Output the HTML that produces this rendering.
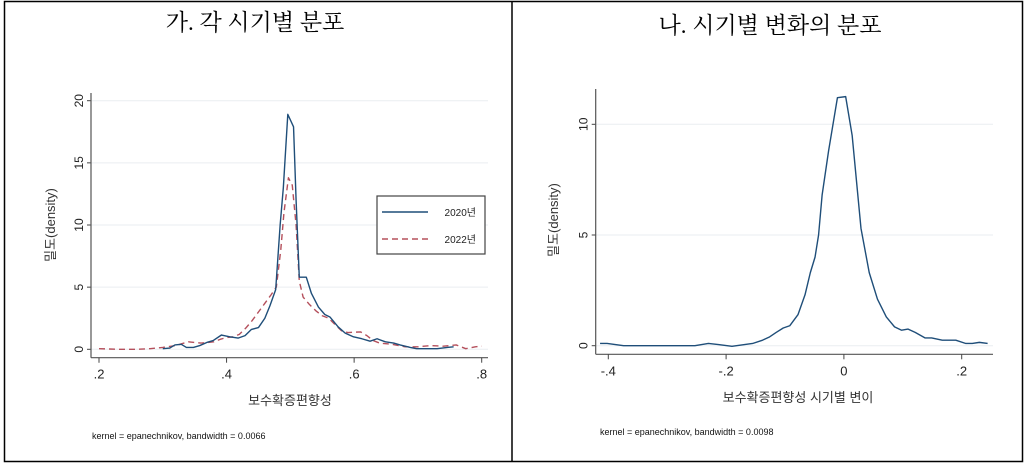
<!DOCTYPE html>
<html><head><meta charset="utf-8"><style>
body{margin:0;background:#fff;width:1024px;height:466px;overflow:hidden}
svg text{font-family:"Liberation Sans","Noto Sans CJK KR",sans-serif}
.t{font-family:"Liberation Serif","Noto Serif CJK SC",serif !important}
</style></head><body>
<svg width="1024" height="466">
<rect x="4.5" y="1.5" width="1018" height="460" fill="none" stroke="#000" stroke-width="1.5"/>
<line x1="512" y1="1.5" x2="512" y2="461.5" stroke="#000" stroke-width="1.5"/>
<text class="t" x="255" y="30" font-size="23" text-anchor="middle">가. 각 시기별 분포</text>
<text class="t" x="770" y="33" font-size="23" text-anchor="middle">나. 시기별 변화의 분포</text>
<g id="L"></g>
<g id="R"></g>
</svg>
<script>
const leftX2020=[.30,.311,.319,.329,.337,.348,.358,.369,.379,.392,.405,.418,.429,.439,.45,.46,.468,.477,.484,.489,.496,.505,.509,.514,.525,.533,.544,.554,.562,.575,.586,.599,.612,.625,.636,.649,.662,.672,.688,.698,.714,.73,.746,.756];
const leftY2020=[.05,.1,.35,.4,.15,.15,.3,.55,.7,1.15,1.0,.9,1.1,1.6,1.75,2.5,3.5,4.8,10,13,18.9,17.9,12,5.8,5.8,4.5,3.4,2.8,2.6,1.8,1.3,1.0,.85,.65,.85,.6,.5,.35,.15,.05,.05,.05,.15,.2];
const leftX2022=[.2,.23,.26,.28,.3,.32,.34,.36,.38,.39,.40,.41,.42,.43,.44,.45,.46,.47,.478,.485,.49,.497,.503,.509,.514,.52,.53,.54,.55,.56,.57,.58,.59,.61,.62,.63,.64,.66,.68,.70,.72,.74,.76,.775,.79,.80];
const leftY2022=[.05,0,0,.05,.15,.3,.6,.5,.6,.8,.95,1.0,1.2,1.7,2.3,3.0,3.7,4.4,5.0,8,11,13.8,13.2,10,5.5,4.2,3.6,3.1,2.7,2.5,2.0,1.5,1.35,1.4,1.1,.7,.5,.4,.2,.2,.3,.25,.35,.05,.2,.25];
const leftXTicks=[.2,.4,.6,.8];const leftXLabels=[".2",".4",".6",".8"];
const leftYTicks=[0,5,10,15,20];
const rightX=[-.414,-.402,-.374,-.253,-.23,-.213,-.19,-.155,-.138,-.126,-.115,-.103,-.092,-.078,-.066,-.057,-.049,-.043,-.037,-.026,-.011,.003,.014,.029,.043,.057,.072,.086,.098,.109,.121,.138,.149,.167,.19,.207,.218,.23,.244];
const rightY=[.1,.1,0,0,.1,.05,-.03,.1,.25,.4,.6,.8,.9,1.4,2.3,3.3,4.0,5.0,6.8,8.8,11.2,11.25,9.5,5.3,3.3,2.1,1.3,.85,.7,.75,.6,.35,.35,.25,.25,.1,.1,.15,.1];
const rightXTicks=[-.4,-.2,0,.2];const rightXLabels=["-.4","-.2","0",".2"];
const rightYTicks=[0,5,10];
const NS="http://www.w3.org/2000/svg";
function mk(g,tag,a,txt){const e=document.createElementNS(NS,tag);for(const k in a)e.setAttribute(k,a[k]);if(txt!==undefined)e.textContent=txt;g.appendChild(e);return e;}
function panel(g,o){
 const sx=v=>o.x0+(v-o.vx0)/(o.vx1-o.vx0)*(o.x1-o.x0);
 const sy=v=>o.y0+(v-o.vy0)/(o.vy1-o.vy0)*(o.y1-o.y0);
 o.yt.forEach(t=>{const l=mk(g,'line',{x1:o.ax,x2:o.axR,y1:sy(t),y2:sy(t),stroke:'#eaeef1','stroke-width':1});
  
  
  const tk=mk(g,'line',{x1:o.ax-4,x2:o.ax,y1:sy(t),y2:sy(t),stroke:'#444'});
  
  
  const tx=mk(g,'text',{x:o.ax-8,y:sy(t),'font-size':12,fill:'#222','text-anchor':'middle',transform:`rotate(-90 ${o.ax-8} ${sy(t)})`},String(t));
  
  });
 const a1=mk(g,'line',{x1:o.ax,x2:o.ax,y1:o.axT,y2:o.ay,stroke:'#555','stroke-width':1.2});
 
 
 const a2=mk(g,'line',{x1:o.ax,x2:o.axR,y1:o.ay,y2:o.ay,stroke:'#555','stroke-width':1.2});
 
 
 o.xt.forEach((t,i)=>{const tk=mk(g,'line',{x1:sx(t),x2:sx(t),y1:o.ay,y2:o.ay+5,stroke:'#444'});
  
  
  const tx=mk(g,'text',{x:sx(t),y:o.ay+21,'font-size':13,fill:'#222','text-anchor':'middle'},o.xl[i]);
  
  });
 o.series.forEach(s=>{const p=mk(g,'polyline',{points:s.x.map((v,i)=>sx(v)+','+sy(s.y[i])).join(' '),fill:'none',stroke:s.c,'stroke-width':1.4,'stroke-dasharray':s.d||'none','stroke-linejoin':'round'});
  
  });
 const yt=mk(g,'text',{x:o.ytx,y:o.yty,'font-size':13,fill:'#333','text-anchor':'middle',transform:`rotate(-90 ${o.ytx} ${o.yty})`},'밀도(density)');
 
 
 const xt=mk(g,'text',{x:o.xtx,y:o.xty,'font-size':13,fill:'#333','text-anchor':'middle'},o.xtitle);
 
 
 const nt=mk(g,'text',{x:o.nx,y:o.ny,'font-size':9,fill:'#111'},o.note);
 
 
}
const L=document.getElementById('L'),R=document.getElementById('R');
panel(L,{x0:99,x1:481.7,vx0:.2,vx1:.8,y0:349.3,y1:100.7,vy0:0,vy1:20,ax:91,axR:488,axT:93,ay:357.7,
 xt:leftXTicks,xl:leftXLabels,yt:leftYTicks,ytx:55,yty:225,xtx:290,xty:405,xtitle:'보수확증편향성',nx:92,ny:439,note:'kernel = epanechnikov, bandwidth = 0.0066',
 series:[{x:leftX2022,y:leftY2022,c:'#b5505c',d:'6 4',n:'line-2022'},{x:leftX2020,y:leftY2020,c:'#1f4e79',n:'line-2020'}]});
panel(R,{x0:608.3,x1:961.7,vx0:-.4,vx1:.2,y0:345.7,y1:124.3,vy0:0,vy1:10,ax:595.7,axR:993,axT:89,ay:354.3,
 xt:rightXTicks,xl:rightXLabels,yt:rightYTicks,ytx:558,yty:220,xtx:798,xty:402,xtitle:'보수확증편향성 시기별 변이',nx:600,ny:435,note:'kernel = epanechnikov, bandwidth = 0.0098',
 series:[{x:rightX,y:rightY,c:'#1f4e79',n:'line-change'}]});
const lg=mk(L,'g',{});


mk(lg,'rect',{x:377,y:196,width:108,height:58,fill:'#fff',stroke:'#444','stroke-width':1.2});
const e1=mk(lg,'line',{x1:382,x2:428,y1:212,y2:212,stroke:'#1f4e79','stroke-width':1.5});


const t1=mk(lg,'text',{x:476,y:216,'font-size':10,fill:'#222','text-anchor':'end'},'2020년');


const e2=mk(lg,'line',{x1:382,x2:428,y1:239,y2:239,stroke:'#b5505c','stroke-width':1.5,'stroke-dasharray':'6 4'});


const t2=mk(lg,'text',{x:476,y:243,'font-size':10,fill:'#222','text-anchor':'end'},'2022년');


</script>
</body></html>
